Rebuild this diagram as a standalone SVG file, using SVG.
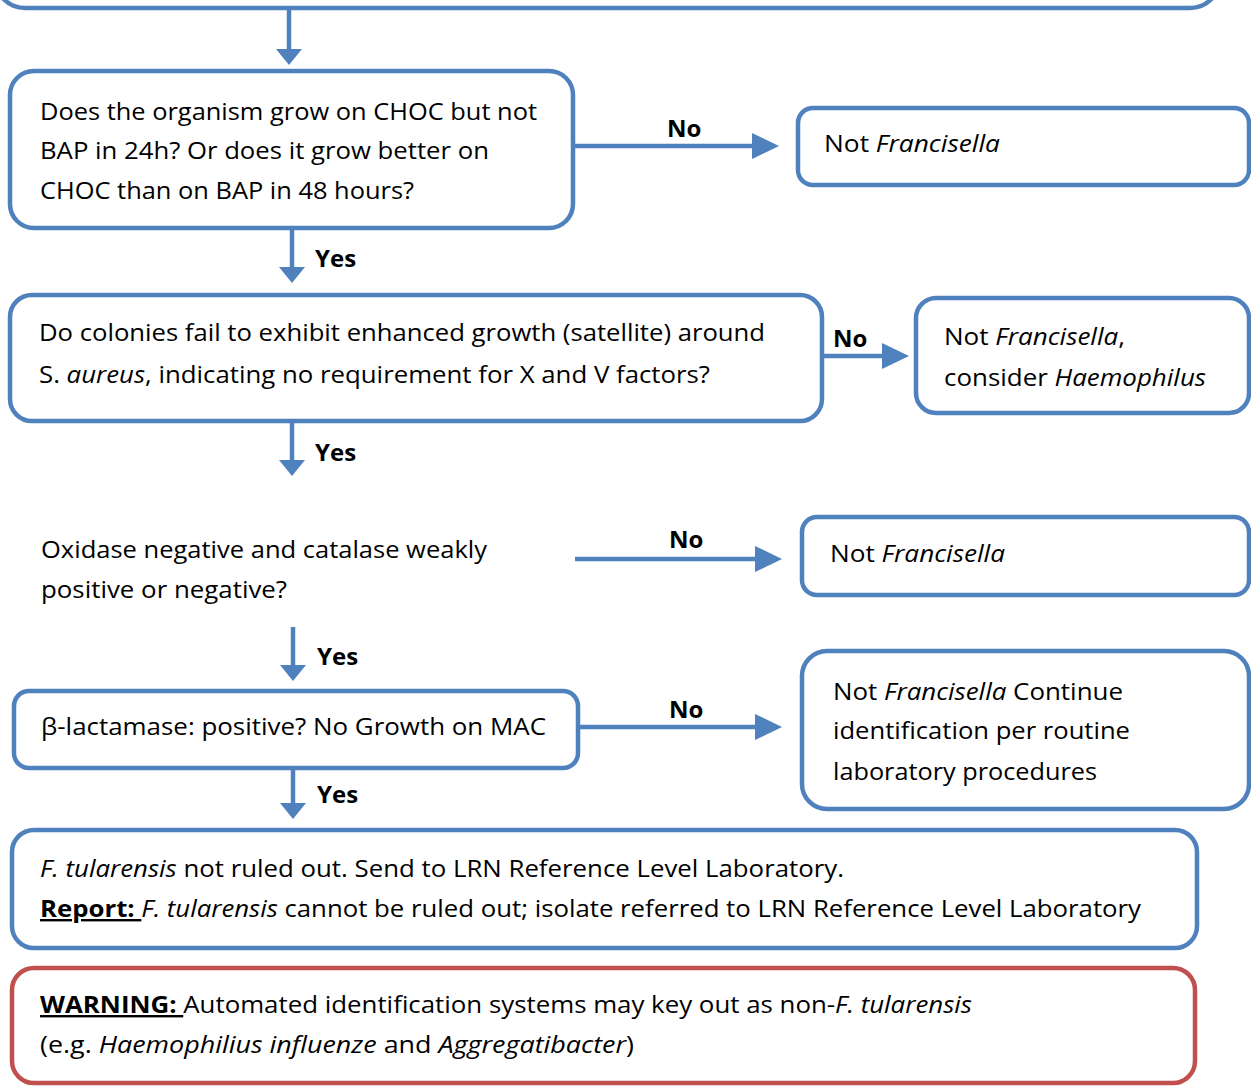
<svg xmlns="http://www.w3.org/2000/svg" width="1251" height="1086" viewBox="0 0 1251 1086">
<style>
.box{fill:#fff;stroke:#4F81BD;stroke-width:4.5}
.warn{fill:#fff;stroke:#C0504D;stroke-width:4.5}
.t{font-family:"Open Sans","Noto Sans",sans-serif;font-size:24px;fill:#000}
.lbl{font-family:"Open Sans","Noto Sans",sans-serif;font-size:24px;font-weight:bold;fill:#000}
.i{font-style:italic}
.b{font-weight:bold;text-decoration:underline}
.c{fill:none;stroke:#4F81BD;stroke-width:4.5}
</style>
<defs>
<marker id="ah" markerUnits="userSpaceOnUse" markerWidth="28" markerHeight="28" refX="0" refY="13" orient="auto" viewBox="0 0 28 26">
<path d="M0,0 L27,13 L0,26 z" fill="#4F81BD"/>
</marker>
<marker id="av" markerUnits="userSpaceOnUse" markerWidth="17" markerHeight="28" refX="0" refY="13" orient="auto" viewBox="0 0 17 26">
<path d="M0,0 L16,13 L0,26 z" fill="#4F81BD"/>
</marker>
</defs>

<g id="connectors">
<line class="c" x1="289" y1="8" x2="289" y2="49" marker-end="url(#av)"/>
<line class="c" x1="292" y1="228" x2="292" y2="267" marker-end="url(#av)"/>
<line class="c" x1="292" y1="422" x2="292" y2="460" marker-end="url(#av)"/>
<line class="c" x1="293" y1="627" x2="293" y2="665" marker-end="url(#av)"/>
<line class="c" x1="293" y1="768" x2="293" y2="803" marker-end="url(#av)"/>
<line class="c" x1="575" y1="146" x2="752" y2="146" marker-end="url(#ah)"/>
<line class="c" x1="822" y1="356" x2="882" y2="356" marker-end="url(#ah)"/>
<line class="c" x1="575" y1="559" x2="755" y2="559" marker-end="url(#ah)"/>
<line class="c" x1="578" y1="727" x2="755" y2="727" marker-end="url(#ah)"/>
<text class="lbl" x="667" y="137">No</text>
<text class="lbl" x="833" y="347">No</text>
<text class="lbl" x="669" y="548">No</text>
<text class="lbl" x="669" y="718">No</text>
<text class="lbl" x="315" y="267">Yes</text>
<text class="lbl" x="315" y="461">Yes</text>
<text class="lbl" x="317" y="665">Yes</text>
<text class="lbl" x="317" y="803">Yes</text>
</g>

<g id="top">
<rect class="box" x="-5" y="-100" width="1225" height="108" rx="30"/>
</g>

<g id="q-choc">
<rect class="box" x="10" y="71" width="563" height="157" rx="24"/>
<text class="t" x="40" y="120" textLength="497" lengthAdjust="spacingAndGlyphs">Does the organism grow on CHOC but not</text>
<text class="t" x="40" y="159" textLength="449" lengthAdjust="spacingAndGlyphs">BAP in 24h? Or does it grow better on</text>
<text class="t" x="40" y="199" textLength="374" lengthAdjust="spacingAndGlyphs">CHOC than on BAP in 48 hours?</text>
</g>

<g id="not-fran-1">
<rect class="box" x="798" y="108" width="451" height="77" rx="15"/>
<text class="t" x="824" y="152" textLength="176" lengthAdjust="spacingAndGlyphs">Not <tspan class="i">Francisella</tspan></text>
</g>

<g id="q-satellite">
<rect class="box" x="10" y="295" width="812" height="126" rx="22"/>
<text class="t" x="39" y="341" textLength="726" lengthAdjust="spacingAndGlyphs">Do colonies fail to exhibit enhanced growth (satellite) around</text>
<text class="t" x="39" y="383" textLength="671" lengthAdjust="spacingAndGlyphs">S. <tspan class="i">aureus</tspan>, indicating no requirement for X and V factors?</text>
</g>

<g id="haemophilus">
<rect class="box" x="916" y="298" width="333" height="115" rx="20"/>
<text class="t" x="944" y="345" textLength="181" lengthAdjust="spacingAndGlyphs">Not <tspan class="i">Francisella</tspan>,</text>
<text class="t" x="944" y="386" textLength="262" lengthAdjust="spacingAndGlyphs">consider <tspan class="i">Haemophilus</tspan></text>
</g>

<g id="q-oxidase">
<text class="t" x="41" y="558" textLength="446" lengthAdjust="spacingAndGlyphs">Oxidase negative and catalase weakly</text>
<text class="t" x="41" y="598" textLength="246" lengthAdjust="spacingAndGlyphs">positive or negative?</text>
</g>

<g id="not-fran-2">
<rect class="box" x="802" y="517" width="447" height="78" rx="15"/>
<text class="t" x="830" y="562" textLength="175" lengthAdjust="spacingAndGlyphs">Not <tspan class="i">Francisella</tspan></text>
</g>

<g id="q-lactamase">
<rect class="box" x="14" y="691" width="564" height="77" rx="15"/>
<text class="t" x="41" y="735" textLength="505" lengthAdjust="spacingAndGlyphs">β-lactamase: positive? No Growth on MAC</text>
</g>

<g id="not-fran-continue">
<rect class="box" x="802" y="651" width="447" height="158" rx="25"/>
<text class="t" x="833" y="700" textLength="290" lengthAdjust="spacingAndGlyphs">Not <tspan class="i">Francisella</tspan> Continue</text>
<text class="t" x="833" y="739" textLength="297" lengthAdjust="spacingAndGlyphs">identification per routine</text>
<text class="t" x="833" y="780" textLength="264" lengthAdjust="spacingAndGlyphs">laboratory procedures</text>
</g>

<g id="result">
<rect class="box" x="12" y="830" width="1185" height="118" rx="22"/>
<text class="t" x="40" y="877" textLength="804" lengthAdjust="spacingAndGlyphs"><tspan class="i">F. tularensis</tspan> not ruled out. Send to LRN Reference Level Laboratory.</text>
<text class="t" x="40" y="917" textLength="1101" lengthAdjust="spacingAndGlyphs"><tspan class="b">Report: </tspan><tspan class="i">F. tularensis</tspan> cannot be ruled out; isolate referred to LRN Reference Level Laboratory</text>
</g>

<g id="warning">
<rect class="warn" x="12" y="968" width="1183" height="115" rx="22"/>
<text class="t" x="40" y="1013" textLength="932" lengthAdjust="spacingAndGlyphs"><tspan class="b">WARNING: </tspan>Automated identification systems may key out as non-<tspan class="i">F. tularensis</tspan></text>
<text class="t" x="40" y="1053" textLength="594" lengthAdjust="spacingAndGlyphs">(e.g. <tspan class="i">Haemophilius influenze</tspan> and <tspan class="i">Aggregatibacter</tspan>)</text>
</g>
</svg>
